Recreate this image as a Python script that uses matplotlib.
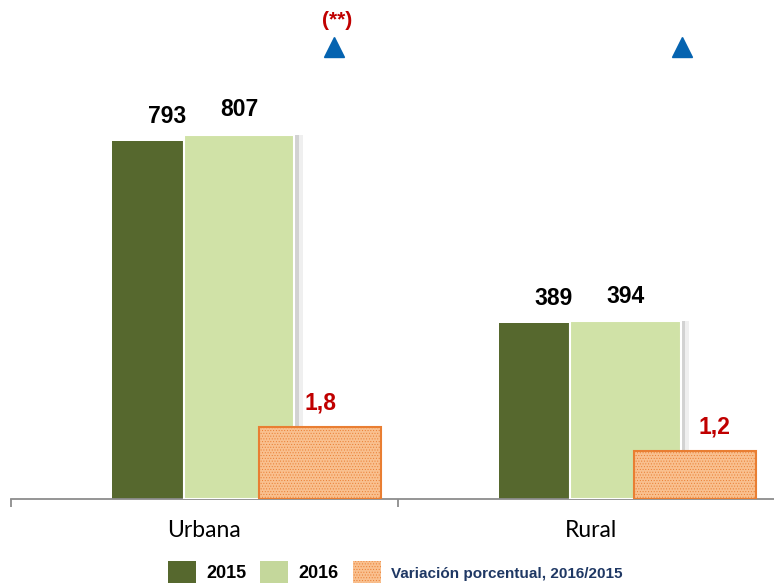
import numpy as np
import matplotlib.pyplot as plt
import matplotlib.patheffects as pe
from matplotlib.patches import Patch

# datos
categorias = ['Urbana', 'Rural']
v2015 = [793, 389]
v2016 = [807, 394]
variacion = [1.8, 1.2]
var_txt = ['1,8', '1,2']
nota = '(**)'

arial = 'Liberation Sans'
plt.rcParams['hatch.linewidth'] = 0.4

c15 = '#56682E'
c16 = '#D0E2A7'
cvar = '#F9C08F'
cvar_edge = '#E97E32'
rojo = '#C00000'
azul = '#0563B0'

fig = plt.figure(figsize=(7.74, 5.83), dpi=100)
ax = fig.add_axes([11/774, 84/583, 773/774, 499/583])

x = np.arange(len(categorias))
w = 0.287
b1 = ax.bar(x - 0.095, v2015, w, color=c15, zorder=2)
b2 = ax.bar(x + 0.09, v2016, w, color=c16, edgecolor='white', lw=1.5, zorder=3)
for p in b2:
    p.set_path_effects([pe.SimplePatchShadow(offset=(3, 0), shadow_rgbFace='#8a8a8a', alpha=0.3),
                        pe.SimplePatchShadow(offset=(6, 0), shadow_rgbFace='#b0b0b0', alpha=0.2),
                        pe.Normal()])

for bars, vals in [(b1, v2015), (b2, v2016)]:
    for p, v in zip(bars, vals):
        ax.annotate(str(v), (p.get_x() + p.get_width()/2, v), xytext=(0, 25),
                    textcoords='offset pixels', ha='center', va='center',
                    fontsize=16.5, fontweight='bold', family=arial, zorder=5)

ax.set_xlim(-0.5, 1.5)
ax.set_ylim(0, 1106)
for s in ['top', 'left', 'right']:
    ax.spines[s].set_visible(False)
ax.spines['bottom'].set_color('#8c8c8c')
ax.spines['bottom'].set_linewidth(1.3)
ax.set_yticks([])
ax.set_xticks(x, categorias, fontsize=16.5, family='Lato')
ax.tick_params(axis='x', length=0, pad=15)
ax.set_xticks([-0.5, 0.5, 1.5], minor=True)
ax.tick_params(axis='x', which='minor', length=6, color='#8c8c8c', width=1.3)

# eje secundario: variacion porcentual
ax2 = ax.twinx()
ax2.set_ylim(0, 12.5)
ax2.axis('off')
var_shift = np.array([0.30, 0.27])
lbl_dx = [0, 19]
b3 = ax2.bar(x + var_shift, variacion, 0.316, color=cvar, edgecolor=cvar_edge,
             hatch='......', lw=1.5, zorder=4)
for p, v, t, dx in zip(b3, variacion, var_txt, lbl_dx):
    ax2.annotate(t, (p.get_x() + p.get_width()/2, v), xytext=(dx, 24),
                 textcoords='offset pixels', ha='center', va='center',
                 fontsize=16.5, fontweight='bold', color=rojo, family=arial)

# triangulos de aumento
tri_x = [0.336, 1.236]
ax.plot(tri_x, [0.906, 0.906], '^', ms=14.5, color=azul,
        transform=ax.get_xaxis_transform(), clip_on=False)
ax.text(0.343, 0.958, nota, transform=ax.get_xaxis_transform(), ha='center',
        va='center', color=rojo, fontsize=15, fontweight='bold', family=arial)

handles = [Patch(facecolor=c15), Patch(facecolor='#C4D79B'),
           Patch(facecolor=cvar, edgecolor=cvar_edge, hatch='......', lw=0)]
labels = ['2015', '2016', 'Variación porcentual, 2016/2015']
leg = fig.legend(handles, labels, ncol=3, loc='center left',
                 bbox_to_anchor=(168/774, 11/583), frameon=False,
                 borderpad=0, borderaxespad=0, fontsize=13,
                 handlelength=1.55, handleheight=1.45, handletextpad=0.55,
                 columnspacing=0.8)
for t in leg.get_texts()[:2]:
    t.set_fontweight('bold')
    t.set_family(arial)
vt = leg.get_texts()[2]
vt.set_fontweight('bold')
vt.set_family(arial)
vt.set_fontsize(11)
vt.set_color('#1F3864')

fig.savefig('out.png', dpi=100)
